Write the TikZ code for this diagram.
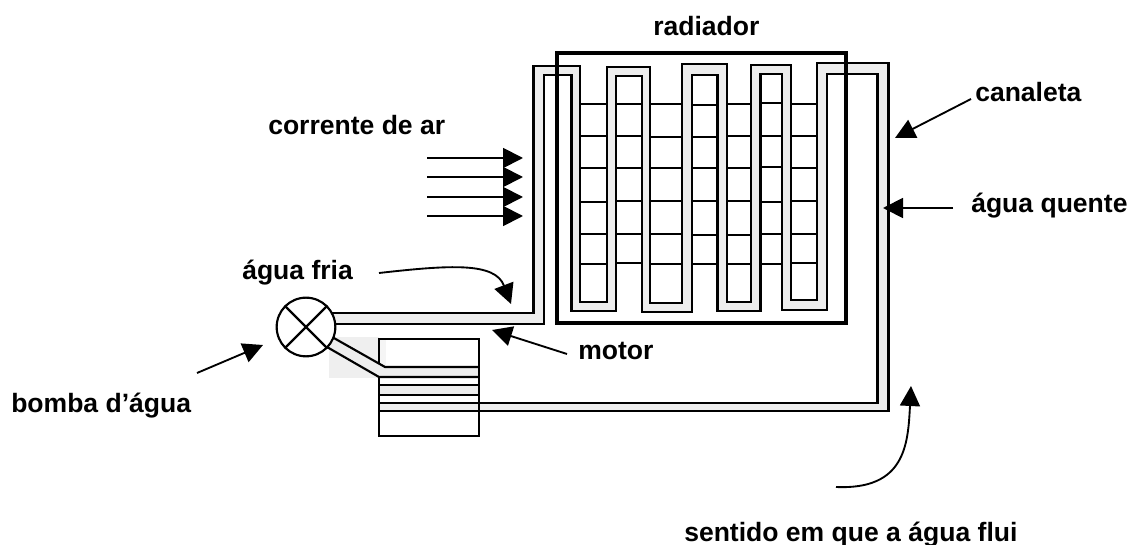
\documentclass[tikz,border=0pt]{standalone}
\usepackage{fontspec}
\setmainfont{Liberation Sans}
\usetikzlibrary{arrows.meta}
\definecolor{pipegray}{HTML}{EDEDED}
\definecolor{patchgray}{HTML}{EFEFEF}
\tikzset{
  lbl/.style={anchor=base west,inner sep=0pt,font=\fontsize{19.9}{24}\selectfont\bfseries},
  wall/.style={line width=1.6pt,line join=miter},
  rung/.style={line width=1.4pt},
  arr/.style={line width=1.4pt,-{Triangle[length=15pt,width=15pt]}},
  frame/.style={draw,line width=2.6pt,minimum width=216.75pt,minimum height=202.5pt,inner sep=0pt},
  motorbox/.style={draw,line width=1.5pt,minimum width=75pt,minimum height=72.75pt,inner sep=0pt},
  pumpbox/.style={draw,circle,fill=white,line width=1.6pt,minimum size=44pt,inner sep=0pt},
}
\begin{document}
\begin{tikzpicture}[x=0.75pt,y=-0.75pt]
\useasboundingbox (0,0) rectangle (1129,545);
% smudge near the motor
\fill[patchgray] (329,337) rectangle (379,378);
\fill[patchgray!60] (379,339) rectangle (386,367);
% water channel
\fill[pipegray] (325,313) -- (533.5,313) -- (533.5,66) -- (580,66) -- (580,302) -- (607,302) -- (607,67) -- (650,67) -- (650,303) -- (682,303) -- (682,64) -- (727,64) -- (727,302) -- (751,302) -- (751,65) -- (791,65) -- (791,300) -- (817,300) -- (817,63) -- (888.5,63) -- (888.5,411) -- (379,411) -- (379,403) -- (877.5,403) -- (877.5,74) -- (827,74) -- (827,310) -- (782,310) -- (782,74) -- (760.5,74) -- (760.5,311) -- (717.5,311) -- (717.5,75) -- (692,75) -- (692,312) -- (642,312) -- (642,76) -- (616,76) -- (616,311) -- (571.5,311) -- (571.5,75) -- (544,75) -- (544,324) -- (325,324) -- cycle;
\fill[pipegray] (379,367) rectangle (479,377);
\fill[pipegray] (379,385) rectangle (479,395);
% motor
\node[motorbox] (motor) at (429,387.5) {};
\fill[pipegray] (325,333) -- (385,367) -- (390,367) -- (390,377) -- (379,377) -- (320,343) -- cycle;
% pipe walls
\draw[wall] (325,313) -- (533.5,313) -- (533.5,66) -- (580,66) -- (580,302) -- (607,302) -- (607,67) -- (650,67) -- (650,303) -- (682,303) -- (682,64) -- (727,64) -- (727,302) -- (751,302) -- (751,65) -- (791,65) -- (791,300) -- (817,300) -- (817,63) -- (888.5,63) -- (888.5,411) -- (379,411);
\draw[wall] (325,324) -- (544,324) -- (544,75) -- (571.5,75) -- (571.5,311) -- (616,311) -- (616,76) -- (642,76) -- (642,312) -- (692,312) -- (692,75) -- (717.5,75) -- (717.5,311) -- (760.5,311) -- (760.5,74) -- (782,74) -- (782,310) -- (827,310) -- (827,74) -- (877.5,74) -- (877.5,403) -- (379,403);
% motor coil
\draw[wall] (325,333) -- (385,367) -- (479,367);
\draw[wall] (320,343) -- (379,377) -- (479,377);
\draw[wall] (379,385) -- (479,385);
\draw[wall] (379,395) -- (479,395);
% rungs
\foreach \xa/\xb/\ys in {
  580/607/{104,136,168,202,234,264},
  616/642/{104,136,168,201,234,263},
  650/682/{104,137,168,201,234,264},
  692/718/{105,137,168,201,235,264},
  727/751/{104,136,168,201,235,264},
  761/782/{103,136,167,202,234,264},
  791/817/{104,136,168,201,234,263}}{
  \foreach \yy in \ys { \draw[rung] (\xa,\yy) -- (\xb,\yy); }
}
% radiator frame
\node[frame] (radbox) at (701.5,188) {};
% pump
\node[pumpbox] (pump) at (306,327) {};
\draw[wall] (pump.north west) -- (pump.south east);
\draw[wall] (pump.north east) -- (pump.south west);
% labels
\node[lbl] (tRad) at (653,36) {radiador};
\node[lbl] (tCan) at (975,102) {canaleta};
\node[lbl] (tCor) at (268,135) {corrente de ar};
\node[lbl] (tQue) at (971,213) {água quente};
\node[lbl] (tFri) at (242,280) {água fria};
\node[lbl] (tMot) at (578,360) {motor};
\node[lbl] (tBom) at (11,412) {bomba d’água};
\node[lbl] (tSen) at (684,541) {sentido em que a água flui};
% air stream
\foreach \n/\yy in {1/158,2/177,3/197,4/216}{
  \coordinate (airA\n) at (427,\yy);
  \coordinate (airB\n) at (523,\yy);
  \draw[arr] (airA\n) -- (airB\n);
}
% pointer arrows
\coordinate (canA) at (971,99);   \coordinate (canB) at (895,138);
\coordinate (queA) at (953,208);  \coordinate (queB) at (883,208);
\coordinate (motA) at (567,354);  \coordinate (motB) at (492,330);
\coordinate (bomA) at (197,373);  \coordinate (bomB) at (263,345);
\coordinate (friA) at (379,273);  \coordinate (friB) at (511,304);
\coordinate (senA) at (836,487);  \coordinate (senB) at (911,386);
\draw[arr] (canA) -- (canB);
\draw[arr] (queA) -- (queB);
\draw[arr] (motA) -- (motB);
\draw[arr] (bomA) -- (bomB);
\draw[arr] (friA) .. controls (450,265) and (495,262) .. (friB);
\draw[arr] (senA) .. controls (905,490) and (908,445) .. (senB);
\end{tikzpicture}
\end{document}
